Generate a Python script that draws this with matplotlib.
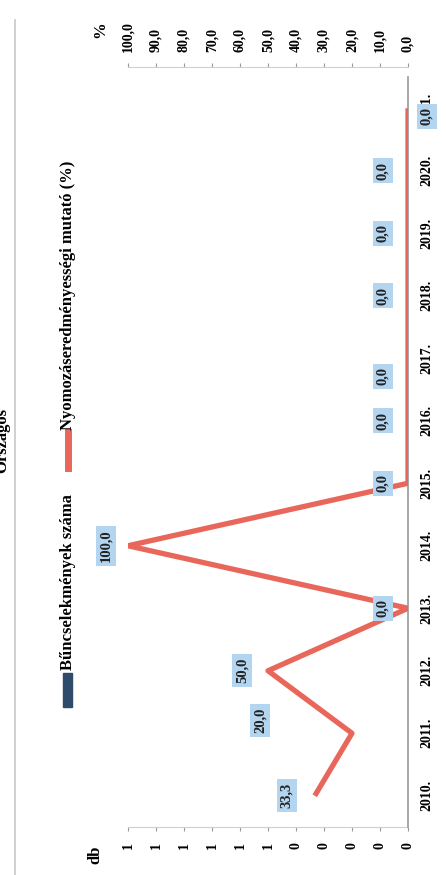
import numpy as np
import matplotlib
matplotlib.use("Agg")
import matplotlib.pyplot as plt
from matplotlib.ticker import FuncFormatter
from matplotlib.patches import Rectangle
from matplotlib.lines import Line2D

years = ["2010.", "2011.", "2012.", "2013.", "2014.", "2015.",
         "2016.", "2017.", "2018.", "2019.", "2020.", "2021."]
crimes = [0, 0, 0, 0, 0, 0, 0, 0, 0, 0, 0, 0]
rate = [33.3, 20.0, 50.0, 0.0, 100.0, 0.0, 0.0, 0.0, 0.0, 0.0, 0.0, 0.0]

title = "Országos"
legend_crimes = "Bűncselekmények száma"
legend_rate = "Nyomozáseredményességi mutató (%)"

W, H = 446, 875


def fx(px):
    return px / W


def fy(py):
    return 1 - py / H


plt.rcParams['font.family'] = ['Liberation Serif', 'DejaVu Serif']
plt.rcParams['font.weight'] = 'bold'

red = "#e8675a"
navy = "#2f4b6b"
grey = "#9a9a9a"

fig = plt.figure(figsize=(W / 100, H / 100), dpi=100)

# the chart is scanned rotated 90 degrees, so years run up the page
ax = fig.add_axes([fx(128), fy(827), fx(408) - fx(128), fy(77) - fy(827)])
ax2 = ax.twiny()
ax.set_zorder(ax2.get_zorder() + 1)
ax.patch.set_visible(False)

ypos = np.arange(len(years))
ax2.barh(ypos, crimes, height=0.5, color=navy)
ax.plot(rate, ypos, color=red, lw=3.8, solid_capstyle='butt', zorder=3)

ax.set_xlim(100, 0)
ax2.set_xlim(1, 0)
ax.set_ylim(-0.5, len(years) - 0.5)

# % axis on top
ax.xaxis.set_ticks_position('top')
ax.set_xticks(np.arange(0, 101, 10))
ax.xaxis.set_major_formatter(FuncFormatter(lambda v, p: f"{v:.1f}".replace('.', ',')))
ax.tick_params(axis='x', length=3, color=grey, pad=8, labelsize=10, labelrotation=90)

# db axis at bottom
ax2.xaxis.set_ticks_position('bottom')
ax2.set_xticks(np.arange(0, 1.01, 0.1))
ax2.xaxis.set_major_formatter(FuncFormatter(lambda v, p: f"{int(v + 0.5)}"))
ax2.tick_params(axis='x', length=3, color=grey, pad=8, labelsize=10, labelrotation=90)

# years on the right
ax.yaxis.set_ticks_position('right')
ax.set_yticks(ypos)
ax.set_yticklabels(years, rotation=90, va='center')
ax.tick_params(axis='y', length=0, pad=9, labelsize=10)

for a in (ax, ax2):
    for s in a.spines.values():
        s.set_visible(False)
ax.spines['right'].set_visible(True)
ax.spines['right'].set_color(grey)
ax.spines['right'].set_linewidth(1.2)
ax.spines['top'].set_visible(True)
ax.spines['top'].set_color('#cfcfcf')
ax.spines['top'].set_position(('outward', 7))
ax2.spines['bottom'].set_visible(True)
ax2.spines['bottom'].set_color('#cfcfcf')

# data labels, some moved by hand in the original
offsets = {0: (-28, 0), 1: (-92, 13), 2: (-26, 0), 4: (-22, 0),
           7: (-25, -18), 11: (19, -8)}
for i, v in enumerate(rate):
    dx, dy = offsets.get(i, (-25, 0))
    ax.annotate(f"{v:.1f}".replace('.', ','), xy=(v, i), xytext=(dx, dy),
                textcoords='offset pixels', rotation=90, ha='center', va='center',
                fontsize=10.5, color='#222222', zorder=5,
                bbox=dict(boxstyle='square,pad=0.25', fc='#b3d5ef', ec='none'))

fig.text(fx(100), fy(30), "%", rotation=90, ha='center', va='center', fontsize=12)
fig.text(fx(95), fy(855), "db", rotation=90, ha='center', va='center', fontsize=12)
fig.text(fx(2), fy(440), title, rotation=90, ha='center', va='center', fontsize=12)

# legend drawn by hand
fig.add_artist(Rectangle((fx(63), fy(707)), fx(72) - fx(63), (707 - 673) / H,
                         transform=fig.transFigure, color=navy))
fig.text(fx(68), fy(670), legend_crimes, rotation=90, ha='center', va='bottom', fontsize=12)
fig.add_artist(Line2D([fx(68), fx(68)], [fy(468), fy(432)], color=red, lw=5,
                      transform=fig.transFigure))
fig.text(fx(68), fy(430), legend_rate, rotation=90, ha='center', va='bottom', fontsize=12)

fig.add_artist(Line2D([fx(15), fx(15)], [fy(20), 0], color='#c8c8c8', lw=1.2,
                      transform=fig.transFigure))

fig.savefig("out.png", dpi=100)
